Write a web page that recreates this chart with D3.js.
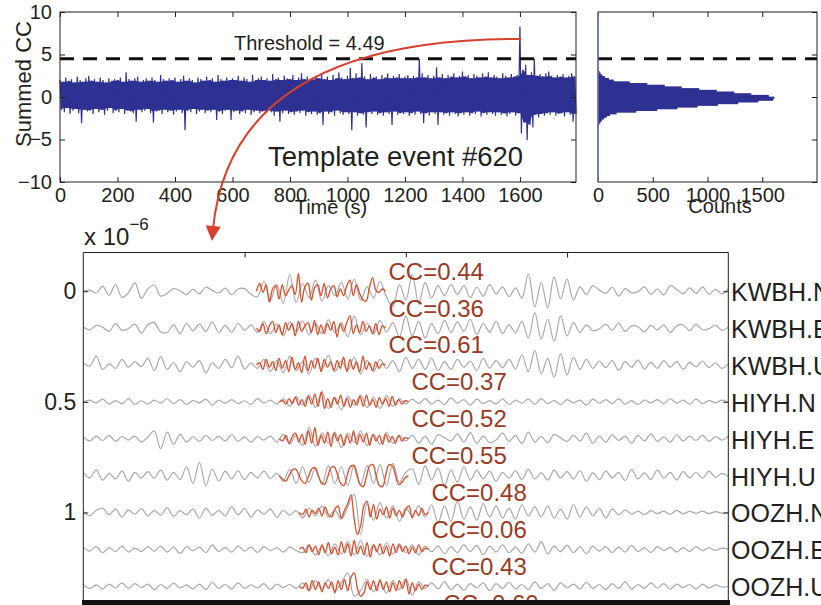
<!DOCTYPE html>
<html>
<head>
<meta charset="utf-8">
<script src="https://cdn.jsdelivr.net/npm/d3@7"></script>
<style>
  body { margin: 0; background: #fff; }
  svg { display: block; font-family: "Liberation Sans", Arial, Helvetica, sans-serif; }
</style>
</head>
<body>
<svg id="fig" width="821" height="605"></svg>
<script>
// ---- summed CC trace, max / min per 10 s window
const ccStep = 10;
const ccUpper = [
  2.0,1.8,2.3,1.9,2.1,1.7,2.4,2.0,1.8,2.2,
  2.5,1.9,2.1,1.8,2.3,2.0,1.7,2.2,1.9,2.1,
  2.0,2.3,1.8,2.9,2.1,1.9,2.2,2.4,1.8,2.0,
  2.2,1.9,2.3,2.0,1.8,2.6,2.1,1.9,2.2,2.0,
  2.3,1.8,2.1,2.5,1.9,2.2,2.0,1.7,2.3,2.1,
  1.9,2.4,2.0,2.2,1.8,2.6,2.1,1.9,2.3,2.0,
  2.2,2.0,2.5,1.9,2.3,2.1,1.8,2.6,2.0,2.2,
  2.4,2.0,2.2,1.9,2.7,2.1,2.3,2.0,2.5,2.2,
  2.1,2.6,2.0,2.3,2.8,2.1,2.4,2.0,2.2,2.5,
  2.2,2.7,2.1,2.4,2.0,2.6,2.2,2.9,2.3,2.1,
  2.5,3.4,2.2,2.8,2.3,4.0,2.4,2.1,2.7,2.3,
  2.4,2.1,2.6,2.3,2.8,2.2,2.5,2.3,2.7,2.2,
  2.4,2.6,2.2,2.5,2.3,4.5,2.8,2.3,2.6,2.2,
  2.5,3.5,2.3,2.7,2.2,2.6,2.4,2.8,2.3,2.5,
  3.0,2.4,2.6,2.2,2.7,2.5,2.3,2.8,2.4,2.9,
  2.3,2.6,2.4,2.2,2.8,2.5,2.3,2.7,2.4,2.6,
  8.3,3.2,3.8,2.6,2.9,4.5,2.5,2.7,2.4,2.8,
  3.0,2.5,2.3,2.6,2.4,2.7,2.3,2.5,2.8,2.4
];
const ccLower = [
  -1.5,-1.8,-1.3,-2.0,-1.6,-1.4,-1.9,-3.1,-1.5,-1.7,
  -1.6,-2.0,-1.4,-1.8,-1.5,-2.1,-1.6,-1.3,-1.9,-1.6,
  -1.8,-1.4,-2.0,-1.6,-1.7,-1.9,-2.9,-1.5,-1.8,-1.6,
  -1.4,-1.9,-3.0,-1.7,-1.6,-2.0,-1.5,-1.8,-1.6,-2.1,
  -1.7,-1.5,-1.9,-3.9,-1.6,-1.8,-1.4,-2.0,-1.7,-1.5,
  -1.9,-1.6,-1.8,-1.5,-2.7,-1.7,-2.0,-1.6,-1.5,-2.7,
  -1.8,-1.6,-2.0,-1.7,-1.9,-1.5,-2.1,-1.8,-1.6,-1.9,
  -1.7,-2.0,-1.6,-1.8,-2.2,-1.7,-2.9,-1.9,-1.6,-2.0,
  -1.8,-2.1,-1.7,-1.9,-1.6,-2.2,-1.8,-2.0,-1.7,-2.1,
  -1.9,-3.3,-1.7,-2.0,-1.8,-2.2,-1.6,-1.9,-2.1,-1.8,
  -2.0,-3.9,-1.8,-2.2,-1.9,-2.1,-3.6,-1.8,-2.0,-1.7,
  -2.1,-1.9,-2.2,-1.8,-2.0,-3.3,-1.7,-2.1,-1.9,-2.0,
  -1.8,-2.2,-1.9,-2.1,-1.7,-2.0,-3.1,-1.9,-2.2,-1.8,
  -2.0,-3.3,-1.8,-2.1,-1.9,-2.2,-1.8,-2.0,-2.3,-1.9,
  -2.1,-1.8,-2.2,-1.9,-2.0,-1.7,-2.3,-1.9,-2.1,-1.8,
  -2.0,-2.2,-1.8,-2.1,-1.9,-2.3,-2.0,-1.8,-2.2,-1.9,
  -4.3,-3.0,-5.1,-3.3,-3.6,-2.1,-2.4,-2.0,-2.2,-1.9,
  -2.1,-1.8,-2.2,-2.0,-1.9,-2.3,-1.8,-2.1,-2.9,-2.0
];
const threshold = 4.49;
const timeTicks = [0, 200, 400, 600, 800, 1000, 1200, 1400, 1600];
const ccTicks = [-10, -5, 0, 5, 10];

// ---- histogram of summed CC
const histBinWidth = 0.2;
const histCenters = [3.3,3.1,2.9,2.7,2.5,2.3,2.1,1.9,1.7,1.5,1.3,1.1,0.9,0.7,0.5,0.3,0.1,
  -0.1,-0.3,-0.5,-0.7,-0.9,-1.1,-1.3,-1.5,-1.7,-1.9,-2.1,-2.3,-2.5,-2.7,-2.9,-3.1,-3.3,-3.5];
const histCounts = [2,8,15,25,40,65,100,145,290,450,610,765,925,1085,1245,1400,1560,
  1610,1600,1465,1280,1095,910,725,540,350,170,110,80,55,38,25,15,8,3];
const countTicks = [0, 500, 1000, 1500];

// ---- waveforms (amplitude in 1e-9, samples every 0.2 s, templates every 0.1 s)
const stations = ["KWBH.N","KWBH.E","KWBH.U","HIYH.N","HIYH.E","HIYH.U","OOZH.N","OOZH.E","OOZH.U"];
const ccValues = ["0.44","0.36","0.61","0.37","0.52","0.55","0.48","0.06","0.43","0.60"];
const templateStart = [5.37,5.37,5.37,6.08,6.08,6.08,6.70,6.70,6.70,7.07];
const templateLength = 4;
const traceDt = 0.2;
const templateDt = 0.1;
const offsetTicks = [0, 0.5, 1];
const offsetLabels = ["0", "0.5", "1"];
const secondTicks = [5, 10, 15];

const traces = [
  [0,5,-8, 22,-18,30,-28,-6,38,-32,10,28,-22, -10,12,2,-15,8,-12,18,4,-8,14,-16,10,12,-14,
   -25,45,-40,30,-55,75,-50,35,-30,50,-45,25,-20,40,-35,55,-40,20,-30,45,-25,
   -70,30,-40,75,-55,40,-30,25, -20,30,-15,25,-28,18,-22,30,-12,20,-25,15,
   -30,78,-70,40,-75,65,-35,55,-40, 20,-15,25,5,-10,18,-22,12,-8,-2,20,-15,10,-18,25,8,-12,15,-10,20,-14,8,-12,10],
  [5,-8,12,4,-15,20,-10,-2,18,-22,15,25,-18, -20,15,-25,22,-12,18,-15,28,-20,12,-18,22,-10,15,
   -20,30,-25,18,-35,28,-15,32,-30,20,-25,38,-20,25,-40,55,-30,22,-28,35,-18,
   25,-40,55,-35,30,-45,20,-25, 35,-20,28,-15,40,-30,22,-18,30,-25,15,-20,
   30,-45,70,-50,40,-60,55,-35,25, -20,15,-12,-4,18,-10,22,-15,10,6,-18,12,-8,15,-20,10,14,-12,18,-8,-3,14,-10,5],
  [10,-5,40,-20,5,-15,25,-10,15,-8,30,-25,38, -20,10,-30,15,-10,20,-35,10,-15,25,-12,40,-18,8,
   -15,25,-30,20,-35,40,-25,15,-40,30,-20,45,-30,18,-25,35,-40,20,-30,25,-15,
   20,-30,35,-15,25,-20,30,-25, 15,-20,25,-10,18,-25,30,-15,20,-12,25,-18,
   45,-30,65,-40,30,-55,50,-45,35, -20,25,-15,18,-12,20,-25,15,-10,22,-18,12,-15,20,-10,15,-20,12,-8,18,-12,10,-15,5],
  [0,8,-5,12,-10,6,-8,15,-12,5,-10,8,-6,14,-8,10,-12,6,-5,12,-15,8,-6,10,-8,5,-12,15,-6,8,
   -10,15,-20,25,-15,30,-25,45,-30,20,-35,25,-15,30,-25,20,-30,28,-20,15,-10,
   12,-8,15,-10,8,-12,18,-6,10,-15,12,-8,6,-10,14,-12,8,-6,12,-10,15,-8,6,-12,10,
   -5,8,-14,12,-6,10,-8,15,-10,6,-12,8,-5,10,-8,14,-6,8,-10,12,-8,6,-4,8,-2],
  [8,-10,12,-8,15,-12,10,-6,12,-15,8,35,-45,30,-25,20,-15,10,-12,15,-8,12,-10,18,-12,8,-15,10,-6,12,
   -15,20,-25,15,-30,50,-35,25,-20,30,-40,25,-15,35,-30,20,-25,30,-20,15,-10,
   15,-20,12,-25,18,5,-10,22,-15,28,-20,12,-18,-6,25,-12,15,-22,30,-15,10,-18,20,4,-12,
   15,-10,25,-20,12,-15,18,-8,12,-20,15,-10,22,-12,8,-15,18,-10,12,-8,15,-12,10,-6,12],
  [15,-10,25,-20,10,-15,20,-25,15,-10,18,-12,25,-20,15,-18,40,-35,60,-45,30,-25,20,-15,22,-18,15,-10,20,-12,
   10,-25,30,-35,40,-30,35,-40,45,-35,40,-45,50,-40,45,-35,50,-45,55,-30,15,
   30,-40,45,-20,35,-45,25,-30,40,-20,25,-15,20,-25,15,-12,22,-18,28,-15,12,-20,25,-10,18,
   -15,22,-25,12,-18,20,-10,15,-22,28,-15,12,-18,25,-12,15,-20,18,-10,14,-12,20,-8,10,-5],
  [5,-15,10,20,-10,15,-20,12,-8,18,-15,10,-12,22,-18,8,-10,15,-25,20,-12,10,-15,25,-10,18,-20,12,-8,15,-22,10,-12,8,
   -25,20,-15,30,-20,10,-30,25,82,-100,40,-35,45,-25,30,-40,20,-15,30,-20,
   35,-45,30,-40,50,-30,25,-35,40,-20,30,-25,20,-30,35,-15,25,-20,30,-25,15,-30,35,-20,25,
   -15,20,-25,15,-10,12,-8,6,-10,8,-5,6,-8,10,-6,5,-4,6,-5,4,-3,0],
  [10,-8,12,-15,8,-10,15,-12,6,-10,12,-8,15,-12,10,-18,12,-6,10,-15,20,-10,8,-12,15,-8,10,-14,12,-6,8,-12,10,-5,
   -15,20,-25,15,-30,25,-20,35,-25,40,-30,20,-25,30,-20,25,-15,20,-25,15,
   -10,15,-20,12,-15,20,-10,18,-25,15,-12,20,-15,10,-18,25,-12,35,-20,15,-10,18,-15,12,-20,
   15,-8,12,-15,10,-12,18,-10,8,-14,12,-6,10,-12,8,-10,12,-6,8,-5,6,0],
  [8,-10,6,-12,10,-8,15,-10,12,-6,10,-15,8,-10,14,-8,6,-12,10,-15,18,-10,8,-12,15,-10,6,-8,12,-15,10,-6,8,-10,
   15,-20,25,-15,30,-20,15,60,-45,-20,30,-25,20,-30,25,-15,35,-40,20,-10,
   15,-12,20,-15,10,-18,12,-8,15,-20,12,-10,18,-12,8,-15,20,-10,12,-18,15,-8,10,-12,18,
   -10,8,-15,12,-10,20,-12,8,-10,15,-8,12,-14,10,-6,8,-12,10,-8,6,-4,0]
];
const templates = [
  [0,35,-5,30,-50,10,25,-35,30,-20,5,25,-15,80,-50,20,35,-40,15,30,-20,35,-30,10,25,-25,10,-20,25,50,-20,30,-10,-40,-45,15,60,5,-5,10,0],
  [0,-15,20,-25,10,30,-20,15,-30,25,-10,20,-35,30,-15,10,25,-20,35,-30,15,-25,20,-10,30,-40,20,-15,25,55,-25,15,-20,30,-15,10,-25,20,-30,10,0],
  [0,10,-20,25,-10,15,-25,30,-15,20,-30,35,-20,10,-35,40,-25,20,-15,30,-30,25,-10,15,-25,20,-15,35,-30,25,-20,15,-30,40,-20,10,-25,15,-15,5,0],
  [0,5,-10,15,-8,20,-15,10,-20,25,-10,35,-20,45,-30,15,-25,20,-10,30,-20,15,-25,10,-15,25,-20,30,-15,10,-25,20,-10,15,-20,25,-15,10,-10,5,0],
  [0,-10,15,-20,10,25,-15,20,-25,35,-20,50,-30,15,-20,30,-35,25,-10,20,-30,15,-20,35,-25,20,-15,25,-30,20,-10,15,-25,20,-15,10,-20,15,-10,5,0],
  [0,-15,-25,0,25,30,5,-25,-35,-5,30,35,0,-30,-40,-5,35,40,5,-35,-45,0,40,45,5,-40,-50,-5,45,50,0,-45,-50,5,50,45,0,-40,-30,-10,0],
  [0,-10,15,-20,10,-5,20,-15,25,-10,-20,15,30,-25,10,40,80,-30,-100,-60,30,50,-20,35,-30,15,-10,25,-25,20,-15,10,-20,15,30,-25,10,-15,20,-10,0],
  [0,10,-15,20,-10,15,-25,20,-15,30,-20,10,-25,35,-15,25,-30,40,-20,15,-25,30,-35,20,-10,25,-20,15,-30,25,-15,20,-10,15,-20,10,-15,20,-10,5,0],
  [0,-10,15,-20,25,-15,20,-25,15,-10,20,-30,25,-15,30,-20,40,60,-10,-45,-30,20,-15,25,-20,30,-15,20,-25,15,-20,25,-10,30,-35,15,-20,10,-15,5,0]
];

// ---------------------------------------------------------------
const svg = d3.select("#fig");
const ink = "#231f20";
const blue = "#2e3192";
const traceSpacing = 1 / 6;   // offset between stations, x 1e-6

function styleAxis(g, size) {
  g.select(".domain").remove();
  g.selectAll(".tick line").attr("stroke", ink).attr("stroke-width", 1);
  g.selectAll(".tick text").attr("font-size", size || 20).attr("fill", ink)
    .attr("font-family", "Liberation Sans, Arial, sans-serif");
}

// ---------- top left: summed CC vs time
const xT = d3.scaleLinear().domain([0, 1795]).range([60, 576]);
const yC = d3.scaleLinear().domain([-10, 10]).range([182, 12]);

// solid core of the band: smallest swing among neighbouring windows
const core = ccUpper.map((u, i) => ({
  t: i * ccStep + ccStep / 4,
  hi: d3.min(ccUpper.slice(Math.max(0, i - 1), i + 2)),
  lo: d3.max(ccLower.slice(Math.max(0, i - 1), i + 2))
}));
svg.append("path").datum(core)
  .attr("d", d3.area().x(d => xT(d.t)).y0(d => yC(d.lo)).y1(d => yC(d.hi)))
  .attr("fill", blue);

const zig = [];
ccUpper.forEach((u, i) => {
  zig.push([i * ccStep, u]);
  zig.push([i * ccStep + ccStep / 2, ccLower[i]]);
});
svg.append("path").datum(zig)
  .attr("d", d3.line().x(d => xT(d[0])).y(d => yC(d[1])))
  .attr("fill", "none").attr("stroke", blue).attr("stroke-width", 1.2)
  .attr("stroke-linejoin", "bevel");

svg.append("line")
  .attr("x1", xT(0)).attr("x2", xT(1795))
  .attr("y1", yC(threshold)).attr("y2", yC(threshold))
  .attr("stroke", "#111").attr("stroke-width", 3).attr("stroke-dasharray", "14,9");

svg.append("g").attr("transform", "translate(0,182)")
  .call(d3.axisBottom(xT).tickValues(timeTicks).tickSize(-5).tickPadding(6).tickFormat(d3.format("d")))
  .call(styleAxis, 20);
svg.append("g").attr("transform", "translate(0,12)")
  .call(d3.axisTop(xT).tickValues(timeTicks).tickSize(-5).tickFormat("")).call(styleAxis);
svg.append("g").attr("transform", "translate(60,0)")
  .call(d3.axisLeft(yC).tickValues(ccTicks).tickSize(-5).tickPadding(8)).call(styleAxis, 20);
svg.append("g").attr("transform", "translate(576,0)")
  .call(d3.axisRight(yC).tickValues(ccTicks).tickSize(-5).tickFormat("")).call(styleAxis);
svg.append("rect").attr("x", 60).attr("y", 12).attr("width", 516).attr("height", 170)
  .attr("fill", "none").attr("stroke", ink).attr("stroke-width", 1);

svg.append("text").attr("transform", "translate(31,84) rotate(-90)")
  .attr("text-anchor", "middle").attr("font-size", 22).attr("fill", ink).text("Summed CC");
svg.append("text").attr("x", 331).attr("y", 214).attr("text-anchor", "middle")
  .attr("font-size", 20).attr("fill", ink).text("Time (s)");
svg.append("text").attr("x", 234).attr("y", 50).attr("font-size", 20).attr("fill", ink)
  .text("Threshold = " + threshold);

// ---------- top right: histogram
const xH = d3.scaleLinear().domain([0, 2000]).range([598, 817]);
svg.append("g").selectAll("rect").data(histCenters).join("rect")
  .attr("x", xH(0))
  .attr("y", d => yC(d + histBinWidth / 2) - 0.4)
  .attr("width", (d, i) => xH(histCounts[i]) - xH(0))
  .attr("height", d => yC(d - histBinWidth / 2) - yC(d + histBinWidth / 2) + 0.8)
  .attr("fill", blue);

svg.append("line")
  .attr("x1", xH(0)).attr("x2", xH(2000))
  .attr("y1", yC(threshold)).attr("y2", yC(threshold))
  .attr("stroke", "#111").attr("stroke-width", 3).attr("stroke-dasharray", "14,9");

svg.append("g").attr("transform", "translate(0,182)")
  .call(d3.axisBottom(xH).tickValues(countTicks).tickSize(-5).tickPadding(6).tickFormat(d3.format("d")))
  .call(styleAxis, 20);
svg.append("g").attr("transform", "translate(0,12)")
  .call(d3.axisTop(xH).tickValues(countTicks).tickSize(-5).tickFormat("")).call(styleAxis);
svg.append("g").attr("transform", "translate(817,0)")
  .call(d3.axisRight(yC).tickValues(ccTicks).tickSize(-5).tickFormat("")).call(styleAxis);
svg.append("rect").attr("x", 598).attr("y", 12).attr("width", 219).attr("height", 170)
  .attr("fill", "none").attr("stroke", ink).attr("stroke-width", 1);
svg.append("line").attr("x1", 598).attr("x2", 598).attr("y1", 12).attr("y2", 182)
  .attr("stroke", "#7275c4").attr("stroke-width", 1.5);
svg.append("text").attr("x", 720).attr("y", 213).attr("text-anchor", "middle")
  .attr("font-size", 20).attr("fill", ink).text("Counts");

// ---------- bottom: waveforms
const xS = d3.scaleLinear().domain([0, 20]).range([83.3, 728.3]);
const yS = d3.scaleLinear().domain([-0.175, 1.4]).range([252.5, 601]);

traces.forEach((tr, i) => {
  const off = i * traceSpacing;
  const line = d3.line().curve(d3.curveCatmullRom)
    .x((d, j) => xS(j * traceDt))
    .y(v => yS(off - v / 1000));
  svg.append("path").datum(tr).attr("d", line)
    .attr("fill", "none").attr("stroke", "#a9a9a9").attr("stroke-width", 1.2);
});
templates.forEach((tp, i) => {
  const off = i * traceSpacing;
  const line = d3.line().curve(d3.curveCatmullRom)
    .x((d, k) => xS(templateStart[i] + k * templateDt))
    .y(v => yS(off - v / 1000));
  svg.append("path").datum(tp).attr("d", line)
    .attr("fill", "none").attr("stroke", "#dc4a28").attr("stroke-width", 1.3);
});

svg.append("g").attr("transform", "translate(83.3,0)")
  .call(d3.axisLeft(yS).tickValues(offsetTicks).tickSize(-5).tickPadding(7)
    .tickFormat((d, i) => offsetLabels[i])).call(styleAxis, 23);
svg.append("g").attr("transform", "translate(728.3,0)")
  .call(d3.axisRight(yS).tickValues(offsetTicks).tickSize(-5).tickFormat("")).call(styleAxis);
svg.append("g").attr("transform", "translate(0,252.5)")
  .call(d3.axisTop(xS).tickValues(secondTicks).tickSize(-5).tickFormat("")).call(styleAxis);
svg.append("path")
  .attr("d", "M83.3,601V252.5H728.3V601")
  .attr("fill", "none").attr("stroke", ink).attr("stroke-width", 1);

svg.append("g").selectAll("text").data(ccValues).join("text")
  .attr("x", (d, i) => xS(templateStart[i] + templateLength) + 3)
  .attr("y", (d, i) => yS(i * traceSpacing) - 20)
  .attr("dominant-baseline", "central")
  .attr("font-size", 24).attr("fill", "#9c3a1f")
  .text(d => "CC=" + d);

svg.append("g").selectAll("text").data(stations).join("text")
  .attr("x", 731)
  .attr("y", (d, i) => yS(i * traceSpacing) + 1)
  .attr("dominant-baseline", "central")
  .attr("font-size", 25).attr("fill", ink)
  .text(d => d);

svg.append("rect").attr("x", 82).attr("y", 600).attr("width", 648).attr("height", 5).attr("fill", "#111");

const expo = svg.append("text").attr("x", 84).attr("y", 245).attr("font-size", 24).attr("fill", ink);
expo.append("tspan").text("x 10");
expo.append("tspan").attr("dy", -15).attr("font-size", 17).text("\u22126");

// ---------- annotation arrow
svg.append("defs").append("marker")
  .attr("id", "head").attr("viewBox", "0 0 10 10")
  .attr("refX", 2).attr("refY", 5)
  .attr("markerWidth", 16).attr("markerHeight", 15)
  .attr("markerUnits", "userSpaceOnUse").attr("orient", "auto")
  .append("path").attr("d", "M0,0L10,5L0,10z").attr("fill", "#d6402c");
svg.append("path")
  .attr("d", "M521,39 Q232,38 213,229")
  .attr("fill", "none").attr("stroke", "#d6402c").attr("stroke-width", 2)
  .attr("marker-end", "url(#head)");

svg.append("text").attr("x", 268).attr("y", 166)
  .attr("font-size", 28).attr("textLength", 255).attr("lengthAdjust", "spacingAndGlyphs")
  .attr("fill", ink).text("Template event #620");
</script>
</body>
</html>
